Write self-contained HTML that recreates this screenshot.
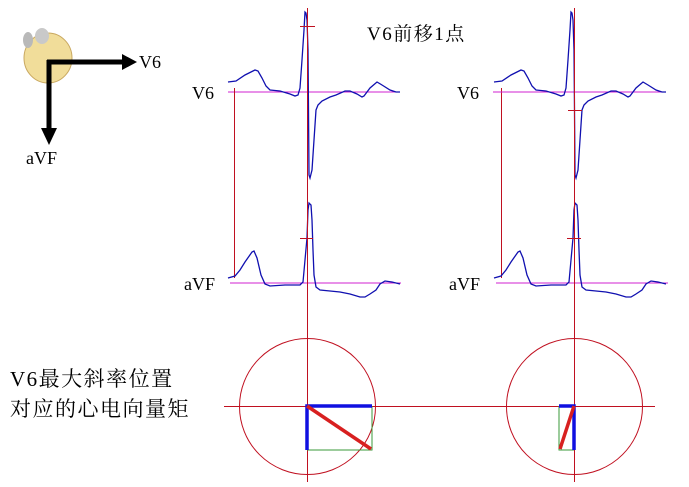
<!DOCTYPE html>
<html><head><meta charset="utf-8"><style>
body{margin:0;background:#fff;width:689px;height:482px;overflow:hidden}
svg text{font-family:"Liberation Serif","Noto Serif CJK SC","WenQuanYi Zen Hei",serif;fill:#000}
</style></head><body>
<svg width="689" height="482" viewBox="0 0 689 482" xmlns="http://www.w3.org/2000/svg">
<ellipse cx="48" cy="58" rx="24" ry="25" fill="#f1dd9a" stroke="#c9a860" stroke-width="1"/>
<ellipse cx="28" cy="40" rx="5" ry="8" fill="#b9b9b9"/>
<ellipse cx="42" cy="36" rx="7" ry="8" fill="#c9c9c9"/>
<path d="M47 62 H128" stroke="#000" stroke-width="5" fill="none"/>
<polygon points="122,54 137,62 122,70" fill="#000"/>
<path d="M49 60 V135" stroke="#000" stroke-width="5" fill="none"/>
<polygon points="41,128 49,145 57,128" fill="#000"/>
<text x="139" y="68" font-size="18">V6</text>
<text x="26" y="164" font-size="18">aVF</text>
<text x="367" y="40" font-size="19" letter-spacing="1.5">V6前移1点</text>

<line x1="228" y1="92" x2="400" y2="92" stroke="#d020d0" stroke-width="1"/>
<line x1="230" y1="283" x2="401" y2="283" stroke="#d020d0" stroke-width="1"/>
<line x1="234.5" y1="88" x2="234.5" y2="278" stroke="#c01020" stroke-width="1"/>
<line x1="501.5" y1="88" x2="501.5" y2="278" stroke="#c01020" stroke-width="1"/>
<line x1="493" y1="92" x2="666" y2="92" stroke="#d020d0" stroke-width="1"/>
<line x1="496" y1="283" x2="668" y2="283" stroke="#d020d0" stroke-width="1"/>

<text x="192" y="99" font-size="18">V6</text>
<text x="184" y="290" font-size="18">aVF</text>
<text x="457" y="99" font-size="18">V6</text>
<text x="449" y="290" font-size="18">aVF</text>

<g fill="none" stroke="#1010b0" stroke-width="1.3">
<polyline points="228,82 236,81 245,75 255,70 258,71 262,78 266,86 270,90 280,91 290,94 295,96 298,95 300,88 302,60 304,30 305,12 306,13 307,20 308,50 308.5,110 309,175 310,178 312,170 314,140 316,110 318,105 322,101 330,97 336,95 345,91 350,91 357,94 362,97 364,96 370,88 377,82 382,85 390,90 396,92 400,92"/>
<polyline points="228,278 235,276 240,270 245,262 252,252 254,251 257,258 261,275 265,284 270,286 285,285 300,285 303,282 305,260 307,238 308,210 309,203 311,205 312,220 313,250 314,275 316,287 320,290 330,291 340,292 350,294 360,297 365,297 370,294 376,290 380,284 385,281 392,282 400,284"/>
<g transform="translate(266,0)">
<polyline points="228,82 236,81 245,75 255,70 258,71 262,78 266,86 270,90 280,91 290,94 295,96 298,95 300,88 302,60 304,30 305,12 306,13 307,20 308,50 308.5,110 309,175 310,178 312,170 314,140 316,110 318,105 322,101 330,97 336,95 345,91 350,91 357,94 362,97 364,96 370,88 377,82 382,85 390,90 396,92 400,92"/>
<polyline points="228,278 235,276 240,270 245,262 252,252 254,251 257,258 261,275 265,284 270,286 285,285 300,285 303,282 305,260 307,238 308,210 309,203 311,205 312,220 313,250 314,275 316,287 320,290 330,291 340,292 350,294 360,297 365,297 370,294 376,290 380,284 385,281 392,282 400,284"/>
</g>
</g>

<g stroke="#c01020" stroke-width="1" fill="none">
<line x1="307.5" y1="8" x2="307.5" y2="482"/>
<line x1="574.5" y1="8" x2="574.5" y2="482"/>
<line x1="300" y1="26.5" x2="315" y2="26.5"/>
<line x1="300" y1="238.5" x2="313" y2="238.5"/>
<line x1="568" y1="110.5" x2="582" y2="110.5"/>
<line x1="567" y1="238.5" x2="581" y2="238.5"/>
<line x1="224" y1="406.5" x2="655" y2="406.5"/>
<circle cx="307.5" cy="406.5" r="68"/>
<circle cx="574.5" cy="406.5" r="68"/>
</g>
<g fill="none">
<path d="M372 406 V450 H307" stroke="#3a9a3a" stroke-width="1"/>
<path d="M307 450 V406 H372" stroke="#1010e0" stroke-width="3.5"/>
<line x1="307" y1="406" x2="371" y2="449" stroke="#d82020" stroke-width="3.5"/>
<path d="M559 406 V450 H574" stroke="#3a9a3a" stroke-width="1"/>
<path d="M559 406 H574 V450" stroke="#1010e0" stroke-width="3.5"/>
<line x1="574" y1="406" x2="560" y2="449" stroke="#d82020" stroke-width="3.5"/>
</g>
<text x="10" y="386" font-size="21" letter-spacing="1.5">V6最大斜率位置</text>
<text x="10" y="416" font-size="21" letter-spacing="1.5">对应的心电向量矩</text>
</svg>
</body></html>
